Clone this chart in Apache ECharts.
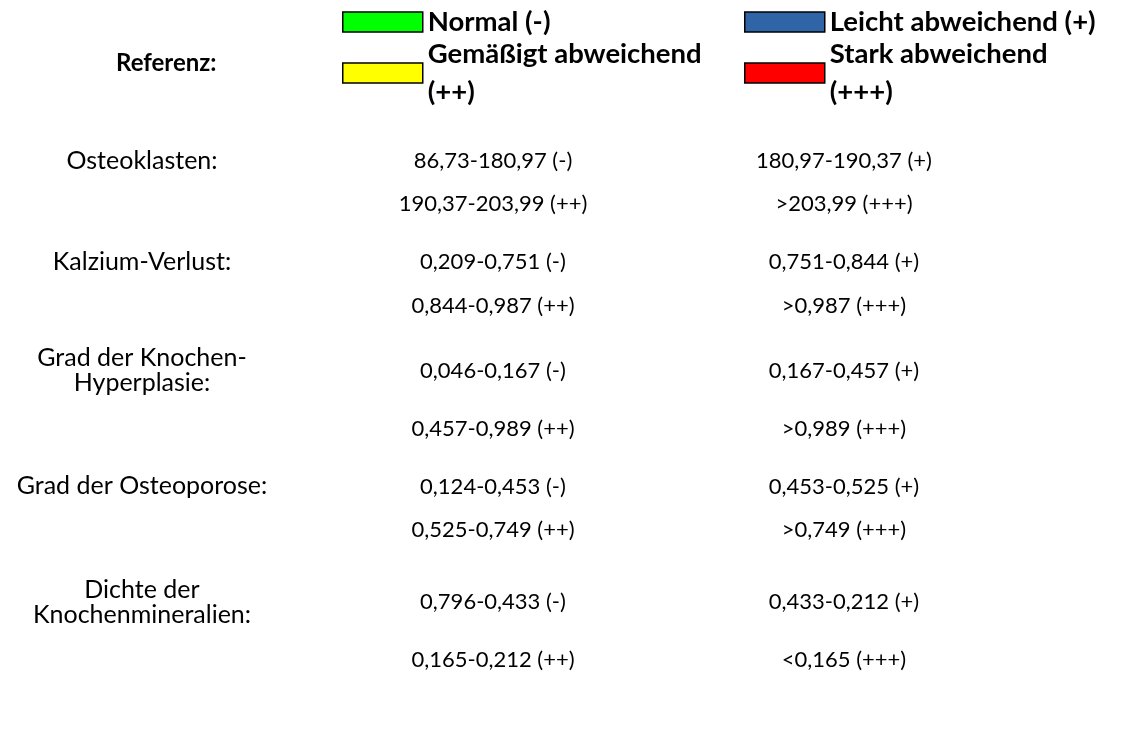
<!DOCTYPE html>
<html><head><meta charset="utf-8">
<script src="https://cdn.jsdelivr.net/npm/echarts@6/dist/echarts.min.js"></script>
<style>html,body{margin:0;padding:0;background:#fff}#main{width:1122px;height:742px}</style>
</head><body><div id="main"></div>
<script>
// ---- data ----
const parameters = ['Osteoklasten:', 'Kalzium-Verlust:', 'Grad der Knochen-\nHyperplasie:', 'Grad der Osteoporose:', 'Dichte der\nKnochenmineralien:'];
const normal = ['86,73-180,97', '0,209-0,751', '0,046-0,167', '0,124-0,453', '0,796-0,433'];
const leicht = ['180,97-190,37', '0,751-0,844', '0,167-0,457', '0,453-0,525', '0,433-0,212'];
const gemaessigt = ['190,37-203,99', '0,844-0,987', '0,457-0,989', '0,525-0,749', '0,165-0,212'];
const stark = ['>203,99', '>0,987', '>0,989', '>0,749', '<0,165'];
const gradeNames = ['Normal (-)', 'Leicht abweichend (+)', 'Gemäßigt abweichend (++)', 'Stark abweichend (+++)'];
const gradeSymbols = ['(-)', '(+)', '(++)', '(+++)'];
const columns = ['Parameter', 'Spalte 1', 'Spalte 2'];
const referenceTitle = 'Referenz:';

// ---- layout / style ----
const gradeColors = ['#00ff00', '#2f64a6', '#ffff00', '#ff0000'];
const firstLineSlot = [0, 14, 29, 45, 61];   // vertical slot (1/3 line units)
const secondLineSlot = [6, 20, 37, 51, 69];
const FONT = 'Lato';

function cells(texts, col, slots, suffix) {
  return texts.map((t, i) => ({ name: suffix ? t + ' ' + suffix : t, value: [col, slots[i]] }));
}
function textSeries(name, color, data, fontSize) {
  return {
    type: 'scatter', name: name, data: data, symbolSize: 0,
    itemStyle: { color: color, opacity: 1 },
    silent: true,
    label: { show: true, position: 'inside', formatter: '{b}', color: '#000', opacity: 1,
      fontFamily: FONT, fontSize: fontSize, lineHeight: 25, align: 'center', verticalAlign: 'middle' }
  };
}
const wrapName = n => (n.indexOf('Gemäßigt') === 0 || n.indexOf('Stark') === 0) ? n.replace(' (', '\n(') : n;
const legendCommon = {
  orient: 'vertical', icon: 'rect', itemWidth: 80, itemHeight: 20, itemGap: -6, padding: 0,
  selectedMode: false, formatter: wrapName,
  itemStyle: { borderColor: '#000', borderWidth: 1.5 },
  textStyle: { fontFamily: FONT, fontWeight: 'bold', fontSize: 27.5, color: '#000', lineHeight: 38 }
};

const chart = echarts.init(document.getElementById('main'));
chart.setOption({
  animation: false,
  backgroundColor: '#fff',
  title: { text: referenceTitle, left: 111, top: 46,
    textStyle: { fontFamily: FONT, fontWeight: 'bold', fontSize: 24, color: '#000' } },
  legend: [
    Object.assign({}, legendCommon, { left: 342, top: 3, data: [gradeNames[0], gradeNames[2]] }),
    Object.assign({}, legendCommon, { left: 744, top: 3, data: [gradeNames[1], gradeNames[3]] })
  ],
  grid: { left: 142, right: 278, top: 161, bottom: 82 },
  xAxis: { type: 'category', data: columns, boundaryGap: false, show: false },
  yAxis: { type: 'value', min: 0, max: 69, inverse: true, show: false },
  series: [
    textSeries('Parameter', '#000', cells(parameters, 0, firstLineSlot), 25),
    textSeries(gradeNames[0], gradeColors[0], cells(normal, 1, firstLineSlot, gradeSymbols[0]), 22),
    textSeries(gradeNames[1], gradeColors[1], cells(leicht, 2, firstLineSlot, gradeSymbols[1]), 22),
    textSeries(gradeNames[2], gradeColors[2], cells(gemaessigt, 1, secondLineSlot, gradeSymbols[2]), 22),
    textSeries(gradeNames[3], gradeColors[3], cells(stark, 2, secondLineSlot, gradeSymbols[3]), 22)
  ]
});
</script></body></html>
